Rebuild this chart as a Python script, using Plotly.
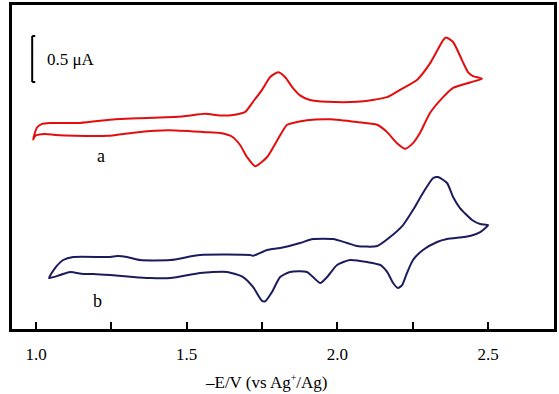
import plotly.graph_objects as go

# Curve a (red): potential (-E/V) and current (uA, arbitrary offset)
a_x = [0.990, 1.003, 1.020, 1.046, 1.146, 1.262, 1.338, 1.485, 1.561, 1.611, 1.660, 1.694,
       1.720, 1.750, 1.777, 1.803, 1.826, 1.850, 1.876, 1.909, 1.966, 2.065, 2.165, 2.208,
       2.265, 2.308, 2.351, 2.361, 2.384, 2.414, 2.434, 2.450, 2.480,
       2.440, 2.384, 2.351, 2.308, 2.274, 2.251, 2.225, 2.198, 2.165, 2.132, 2.065, 1.976,
       1.899, 1.853, 1.833, 1.800, 1.767, 1.727, 1.700, 1.677, 1.651, 1.611, 1.561, 1.438,
       1.338, 1.239, 1.129, 1.063, 1.030, 0.997, 0.990]
a_y = [2.06, 2.19, 2.23, 2.24, 2.24, 2.28, 2.29, 2.31, 2.34, 2.32, 2.33, 2.36,
       2.47, 2.60, 2.74, 2.79, 2.74, 2.63, 2.54, 2.49, 2.47, 2.47, 2.52, 2.60,
       2.71, 2.89, 3.14, 3.17, 3.12, 2.92, 2.79, 2.75, 2.72,
       2.68, 2.62, 2.52, 2.35, 2.13, 2.02, 1.96, 2.02, 2.14, 2.22, 2.25, 2.28,
       2.27, 2.24, 2.22, 2.05, 1.87, 1.77, 1.87, 2.00, 2.09, 2.13, 2.14, 2.16,
       2.14, 2.10, 2.10, 2.11, 2.12, 2.10, 2.06]

# Curve b (navy)
b_x = [1.043, 1.063, 1.090, 1.123, 1.246, 1.269, 1.302, 1.345, 1.445, 1.544, 1.710, 1.720,
       1.767, 1.810, 1.876, 1.919, 1.986, 2.032, 2.065, 2.132, 2.175, 2.218, 2.251, 2.284,
       2.318, 2.334, 2.364, 2.384, 2.407, 2.447, 2.474, 2.500,
       2.474, 2.440, 2.364, 2.331, 2.284, 2.251, 2.231, 2.215, 2.201, 2.185, 2.165, 2.142,
       2.099, 2.042, 1.999, 1.966, 1.943, 1.919, 1.899, 1.843, 1.810, 1.783, 1.760, 1.750,
       1.720, 1.687, 1.634, 1.587, 1.544, 1.445, 1.378, 1.322, 1.246, 1.189, 1.156, 1.113,
       1.080, 1.043]
b_y = [0.554, 0.663, 0.750, 0.783, 0.783, 0.793, 0.783, 0.750, 0.750, 0.804, 0.804, 0.796,
       0.859, 0.880, 0.935, 0.978, 0.978, 0.935, 0.902, 0.902, 1.000, 1.130, 1.293, 1.478,
       1.641, 1.652, 1.587, 1.435, 1.315, 1.185, 1.141, 1.130,
       1.054, 1.011, 0.978, 0.946, 0.859, 0.750, 0.609, 0.478, 0.446, 0.500, 0.620, 0.696,
       0.728, 0.750, 0.696, 0.565, 0.500, 0.565, 0.620, 0.620, 0.565, 0.402, 0.300, 0.305,
       0.457, 0.565, 0.620, 0.620, 0.609, 0.554, 0.554, 0.565, 0.587, 0.598, 0.598, 0.620,
       0.587, 0.554]

tick_vals = [1.0, 1.5, 2.0, 2.5]
tick_text = ["1.0", "1.5", "2.0", "2.5"]
SCALE_UA = 0.5

RED = "#e20e0e"
NAVY = "#1c1c5c"
FONT = "Liberation Serif"

fig = go.Figure()
fig.add_trace(go.Scatter(x=a_x, y=a_y, mode="lines",
                         line=dict(color=RED, width=2, shape="spline", smoothing=0.6),
                         hoverinfo="skip"))
fig.add_trace(go.Scatter(x=b_x, y=b_y, mode="lines",
                         line=dict(color=NAVY, width=2, shape="spline", smoothing=0.6),
                         hoverinfo="skip"))

# scale bar (0.5 uA)
bar_x = 0.987
bar_y0 = 2.685
fig.add_shape(type="line", x0=bar_x, x1=bar_x, y0=bar_y0, y1=bar_y0 + SCALE_UA,
              xref="x", yref="y", line=dict(color="black", width=2))
fig.add_shape(type="line", x0=bar_x, x1=bar_x + 0.01, y0=bar_y0 + SCALE_UA, y1=bar_y0 + SCALE_UA,
              xref="x", yref="y", line=dict(color="black", width=2))
fig.add_shape(type="line", x0=bar_x, x1=bar_x + 0.01, y0=bar_y0, y1=bar_y0,
              xref="x", yref="y", line=dict(color="black", width=2))
fig.add_annotation(x=1.030, y=bar_y0 + SCALE_UA / 2, text="0.5 \u03bcA", showarrow=False,
                   xanchor="left", font=dict(family=FONT, size=17, color="black"))
fig.add_annotation(x=1.215, y=1.88, text="a", showarrow=False,
                   font=dict(family=FONT, size=18, color="black"))
fig.add_annotation(x=1.205, y=0.30, text="b", showarrow=False,
                   font=dict(family=FONT, size=18, color="black"))
# axis title
fig.add_annotation(x=1.765, y=-0.165, xref="x", yref="paper", yanchor="middle",
                   text="\u2013E/V (vs Ag<sup><span style='font-size:10px'>+</span></sup>/Ag)",
                   showarrow=False, font=dict(family=FONT, size=17, color="black"))

fig.update_layout(
    width=559, height=394,
    margin=dict(l=12, r=5, t=5, b=65),
    paper_bgcolor="white", plot_bgcolor="white",
    showlegend=False,
    font=dict(family=FONT, size=17, color="black"),
    xaxis=dict(range=[0.920, 2.719], tickvals=tick_vals, ticktext=tick_text,
               ticks="inside", ticklen=7, tickwidth=2, tickcolor="black",
               minor=dict(ticks="inside", ticklen=7, tickwidth=2, tickcolor="black",
                          tick0=1.0, dtick=0.25, showgrid=False),
               showline=True, linewidth=3, linecolor="black", mirror=True,
               showgrid=False, zeroline=False, ticklabelstandoff=8, automargin=False,
               tickfont=dict(family=FONT, size=17)),
    yaxis=dict(range=[0, 3.522], showticklabels=False, ticks="", automargin=False,
               showline=True, linewidth=3, linecolor="black", mirror=True,
               showgrid=False, zeroline=False),
)

fig.write_html("out.html", config={"displayModeBar": False},
               post_script="document.body.style.margin='0';")
